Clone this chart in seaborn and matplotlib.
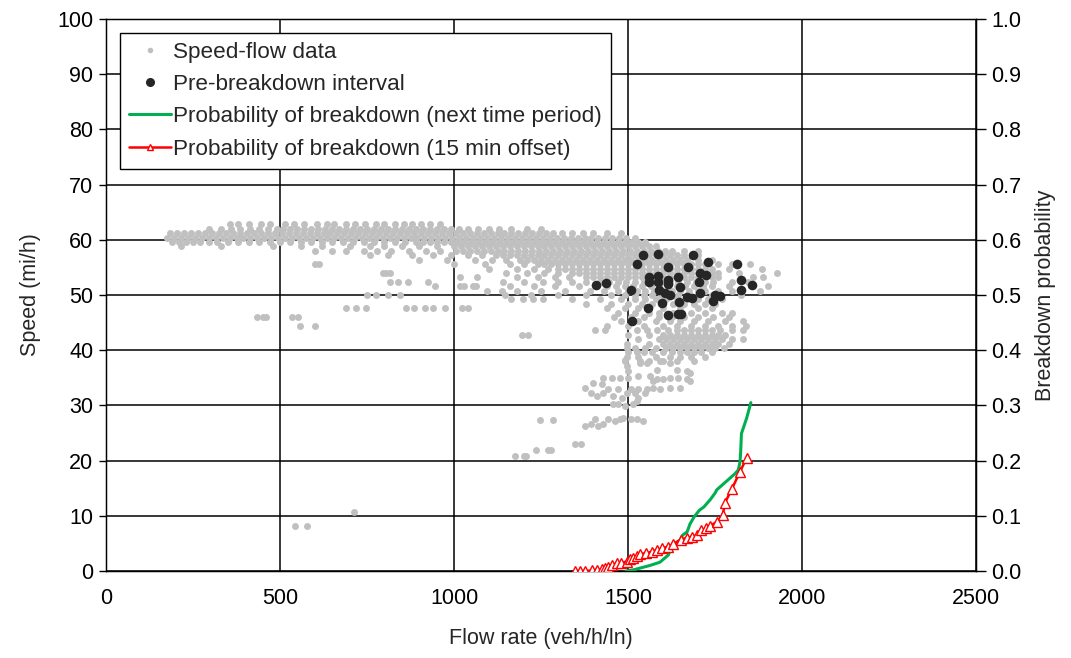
import numpy as np
import pandas as pd
import matplotlib
matplotlib.use("Agg")
import matplotlib.pyplot as plt
from matplotlib.lines import Line2D
import seaborn as sns

# ---------------- data ----------------
# Dense speed-flow band, one list of flows per speed level (mi/h)
row_628 = [355, 380, 410, 445, 470, 515, 540, 570, 605, 635, 655, 690, 715, 745, 775, 800, 830, 855, 880, 905, 930, 960]
row_620 = [295, 330, 360, 385, 415, 440, 465, 490, 510, 530, 550, 570, 590, 610, 630, 650, 670, 690, 710, 730, 750,
           770, 790, 810, 830, 850, 870, 890, 910, 930, 950, 970, 990, 1015, 1040, 1070, 1100, 1130, 1165, 1210, 1250]
row_612 = [185, 205, 225, 245, 265, 285, 305, 325, 345, 365, 385, 405, 425, 445, 465, 485, 505, 525, 545, 565, 585,
           605, 625, 645, 665, 685, 705, 725, 745, 765, 785, 805, 825, 845, 865, 885, 905, 925, 945, 965, 985, 1005,
           1025, 1045, 1065, 1085, 1105, 1125, 1145, 1165, 1185, 1205, 1225, 1245, 1265, 1285, 1310, 1340, 1370, 1400,
           1440, 1480]
row_604 = [175, 195, 215, 235, 255, 275, 295, 315, 335, 355, 375, 395, 415, 435, 455, 475, 495, 515, 535, 555, 575,
           595, 615, 635, 655, 675, 695, 715, 735, 755, 775, 795, 815, 835, 855, 875, 895, 915, 935, 955, 975, 995,
           1015, 1035, 1055, 1075, 1095, 1115, 1135, 1155, 1175, 1195, 1215, 1235, 1255, 1275, 1295, 1315, 1335, 1355,
           1375, 1395, 1415, 1435, 1455, 1475, 1495, 1520]
row_596 = [190, 210, 230, 250, 270, 295, 320, 350, 380, 410, 440, 470, 500, 530, 560, 590, 620, 650, 680, 710, 740,
           770, 800, 830, 860, 890, 910, 930, 950, 970, 990, 1010, 1030, 1050, 1070, 1090, 1110, 1130, 1150, 1170,
           1190, 1210, 1230, 1250, 1270, 1290, 1310, 1330, 1350, 1370, 1390, 1410, 1430, 1450, 1470, 1490, 1510,
           1530, 1550]
row_588 = [215, 330, 480, 560, 620, 700, 760, 800, 850, 900, 950, 1000, 1020, 1040, 1060, 1080, 1100, 1120, 1140,
           1160, 1180, 1200, 1220, 1240, 1260, 1280, 1300, 1320, 1340, 1360, 1380, 1400, 1420, 1440, 1460, 1480,
           1500, 1520, 1540, 1560, 1580]
row_580 = [600, 650, 690, 740, 780, 820, 870, 920, 960, 1005, 1025, 1045, 1065, 1085, 1105, 1125, 1145, 1165, 1185,
           1205, 1225, 1245, 1265, 1285, 1305, 1325, 1345, 1365, 1385, 1405, 1425, 1445, 1465, 1485, 1505, 1525,
           1545, 1565, 1585, 1605, 1625, 1660, 1700]
row_572 = [760, 810, 880, 940, 990, 1040, 1080, 1120, 1140, 1160, 1180, 1200, 1220, 1240, 1260, 1280, 1300, 1320,
           1340, 1360, 1380, 1400, 1420, 1440, 1460, 1480, 1500, 1520, 1540, 1560, 1580, 1600, 1620, 1640, 1660, 1700]
row_564 = [900, 980, 1060, 1110, 1150, 1190, 1210, 1230, 1250, 1270, 1290, 1310, 1330, 1350, 1370, 1390, 1410,
           1430, 1450, 1470, 1490, 1510, 1530, 1550, 1570, 1590, 1610, 1630, 1650, 1670, 1700, 1740]
row_556 = [600, 612, 1000, 1090, 1160, 1200, 1240, 1260, 1280, 1300, 1320, 1340, 1360, 1380, 1400, 1420, 1440, 1460,
           1480, 1500, 1520, 1540, 1560, 1580, 1600, 1620, 1640, 1660, 1680, 1700, 1720, 1760, 1800, 1850]
row_548 = [1100, 1180, 1230, 1270, 1300, 1320, 1340, 1360, 1380, 1400, 1420, 1440, 1460, 1480, 1500, 1520, 1540,
           1560, 1580, 1600, 1620, 1640, 1660, 1680, 1700, 1720, 1740, 1790, 1884]
row_540 = [795, 805, 815, 1150, 1210, 1260, 1300, 1340, 1360, 1380, 1400, 1420, 1440, 1460, 1480, 1500, 1520, 1540,
           1560, 1580, 1600, 1620, 1640, 1660, 1680, 1700, 1720, 1740, 1760, 1820, 1927]
row_532 = [1017, 1065, 1180, 1240, 1290, 1330, 1380, 1400, 1420, 1440, 1460, 1480, 1500, 1520, 1540, 1560, 1580,
           1600, 1620, 1640, 1660, 1680, 1700, 1720, 1740, 1760, 1859, 1889]
row_524 = [816, 840, 868, 926, 1140, 1200, 1255, 1300, 1340, 1380, 1420, 1445, 1470, 1495, 1520, 1545, 1570, 1595,
           1620, 1645, 1670, 1695, 1720, 1745, 1800, 1845]
row_516 = [945, 1017, 1030, 1054, 1064, 1160, 1230, 1290, 1360, 1410, 1440, 1465, 1490, 1515, 1540, 1565, 1590,
           1615, 1640, 1665, 1690, 1715, 1740, 1790, 1903]
row_508 = [1094, 1137, 1180, 1250, 1320, 1390, 1430, 1470, 1500, 1525, 1550, 1575, 1600, 1625, 1650, 1675, 1700,
           1720, 1760, 1800, 1879]
row_500 = [749, 776, 811, 845, 1146, 1220, 1300, 1380, 1450, 1490, 1520, 1545, 1570, 1595, 1620, 1645, 1670, 1700,
           1740, 1826]
row_492 = [1165, 1199, 1228, 1256, 1340, 1420, 1480, 1520, 1550, 1580, 1610, 1640, 1670, 1700, 1730, 1770]
row_484 = [1380, 1450, 1500, 1540, 1570, 1600, 1630, 1660, 1690, 1720, 1750]
row_476 = [690, 718, 748, 861, 885, 917, 941, 975, 1024, 1040, 1440, 1490, 1530, 1560, 1600, 1650, 1700, 1740]
row_468 = [1470, 1520, 1560, 1590, 1630, 1680, 1720, 1770, 1800]
row_460 = [433, 450, 460, 534, 553, 1460, 1510, 1545, 1590, 1625, 1660, 1700, 1745, 1790]
row_452 = [1480, 1530, 1580, 1620, 1650, 1690, 1730, 1780, 1830]
row_444 = [557, 600, 1439, 1500, 1545, 1600, 1640, 1680, 1720, 1760, 1800, 1840]
row_436 = [1405, 1434, 1525, 1554, 1582, 1615, 1640, 1660, 1680, 1700, 1720, 1740, 1765, 1800, 1830]
row_428 = [1194, 1213, 1500, 1560, 1600, 1620, 1640, 1660, 1680, 1700, 1720, 1740, 1760, 1780]
row_420 = [1530, 1590, 1610, 1630, 1650, 1670, 1690, 1710, 1730, 1750, 1770, 1800, 1830]
row_412 = [1496, 1560, 1600, 1620, 1640, 1660, 1680, 1700, 1720, 1740, 1760, 1790]
row_404 = [1496, 1520, 1550, 1580, 1610, 1630, 1650, 1670, 1690, 1710, 1730, 1750, 1775]
row_396 = [1500, 1525, 1545, 1570, 1600, 1625, 1650, 1670, 1690, 1710, 1740]
row_388 = [1496, 1530, 1580, 1620, 1650, 1680, 1720]
row_380 = [1490, 1535, 1560, 1600, 1640, 1690]

band_levels = [62.8, 62.0, 61.2, 60.4, 59.6, 58.8, 58.0, 57.2, 56.4, 55.6, 54.8, 54.0, 53.2, 52.4, 51.6, 50.8,
               50.0, 49.2, 48.4, 47.6, 46.8, 46.0, 45.2, 44.4, 43.6, 42.8, 42.0, 41.2, 40.4, 39.6, 38.8, 38.0]
band_rows = [row_628, row_620, row_612, row_604, row_596, row_588, row_580, row_572, row_564, row_556, row_548,
             row_540, row_532, row_524, row_516, row_508, row_500, row_492, row_484, row_476, row_468, row_460,
             row_452, row_444, row_436, row_428, row_420, row_412, row_404, row_396, row_388, row_380]

# Scattered congested points (flow, speed)
low_flow = [1535, 1554, 1582, 1592, 1621, 1640, 1669, 1678, 1563, 1573, 1582, 1602, 1621, 1645, 1669, 1678,
            1429, 1453, 1477, 1501, 1530, 1424, 1400, 1376, 1443, 1472, 1510, 1530, 1554, 1573, 1592, 1621, 1650,
            1395, 1410, 1429, 1458, 1482, 1496, 1520, 1530, 1549, 1458, 1472, 1491, 1515, 1525, 1496, 1501, 1490,
            1376, 1395, 1405, 1414, 1429, 1443, 1463, 1477, 1487, 1510, 1525, 1544, 1347, 1366,
            1247, 1284, 1237, 1270, 1280, 1175, 1200, 1208, 543, 577, 714]
low_speed = [37.7, 37.7, 36.5, 38.0, 37.7, 36.5, 36.2, 35.9, 35.3, 34.4, 34.7, 34.7, 35.0, 35.0, 34.7, 34.4,
             35.0, 35.0, 35.0, 35.0, 35.3, 33.8, 34.1, 33.2, 32.9, 32.9, 32.9, 32.9, 32.9, 33.2, 32.9, 33.2, 33.2,
             32.3, 31.7, 32.3, 31.7, 31.4, 32.3, 32.3, 31.4, 32.3, 30.2, 30.2, 29.9, 30.2, 30.8, 37.1, 36.2, 38.3,
             26.3, 26.6, 27.5, 26.3, 26.6, 27.5, 27.2, 27.5, 27.8, 27.5, 27.5, 27.2, 23.0, 23.0,
             27.4, 27.4, 22.0, 22.0, 22.0, 20.8, 20.8, 20.8, 8.2, 8.2, 10.6]

# Pre-breakdown interval points
pre_flow = [1544, 1585, 1686, 1525, 1616, 1673, 1731, 1812, 1561, 1561, 1585, 1585, 1616, 1616, 1645, 1649, 1707,
            1723, 1704, 1826, 1855, 1826, 1509, 1590, 1606, 1621, 1669, 1683, 1707, 1750, 1764, 1745, 1597, 1558,
            1647, 1616, 1645, 1652, 1511, 1408, 1437]
pre_speed = [57.2, 57.5, 57.2, 55.6, 55.1, 55.0, 55.9, 55.6, 53.2, 52.4, 53.4, 52.4, 52.8, 52.0, 53.3, 51.5, 53.9,
             53.7, 52.4, 52.8, 51.8, 50.9, 50.9, 50.9, 50.3, 50.0, 49.7, 49.4, 50.3, 50.0, 49.8, 49.0, 48.5, 47.6,
             48.8, 46.4, 46.6, 46.5, 45.3, 51.8, 52.2]

# Probability of breakdown (next time period)
next_flow = [1495, 1515, 1563, 1592, 1616, 1621, 1649, 1657, 1670, 1678, 1690, 1705, 1718, 1736, 1750, 1755, 1807,
             1817, 1822, 1824, 1826, 1841, 1853]
next_prob = [0.0, 0.002, 0.010, 0.016, 0.029, 0.038, 0.055, 0.065, 0.071, 0.085, 0.098, 0.110, 0.116, 0.129, 0.141,
             0.147, 0.176, 0.183, 0.198, 0.219, 0.249, 0.277, 0.305]

# Probability of breakdown (15 min offset)
off_flow = [1348, 1362, 1376, 1396, 1410, 1424, 1435, 1443, 1455, 1467, 1481, 1496, 1505, 1515, 1525, 1534, 1553,
            1568, 1582, 1597, 1616, 1630, 1651, 1669, 1683, 1697, 1711, 1723, 1736, 1755, 1772, 1779, 1798, 1822, 1841]
off_prob = [0.0, 0.0, 0.0, 0.001, 0.002, 0.003, 0.006, 0.008, 0.011, 0.014, 0.015, 0.017, 0.021, 0.023, 0.027,
            0.031, 0.032, 0.035, 0.038, 0.041, 0.044, 0.049, 0.057, 0.060, 0.062, 0.065, 0.074, 0.077, 0.082, 0.089,
            0.101, 0.124, 0.148, 0.180, 0.205]

x_ticks = [0, 500, 1000, 1500, 2000, 2500]
y_ticks = [0, 10, 20, 30, 40, 50, 60, 70, 80, 90, 100]
p_ticks = [0.0, 0.1, 0.2, 0.3, 0.4, 0.5, 0.6, 0.7, 0.8, 0.9, 1.0]

# ---------------- tables ----------------
band_df = pd.DataFrame({
    "flow": [f for row in band_rows for f in row] + low_flow,
    "speed": [lv for lv, row in zip(band_levels, band_rows) for _ in row] + low_speed,
})
pre_df = pd.DataFrame({"flow": pre_flow, "speed": pre_speed})
next_df = pd.DataFrame({"flow": next_flow, "prob": next_prob})
off_df = pd.DataFrame({"flow": off_flow, "prob": off_prob})

# ---------------- plot ----------------
sns.set_style("white")
plt.rcParams["font.family"] = ["Liberation Sans", "DejaVu Sans"]

GRAY = "#c0c0c0"
DARK = "#262626"
GREEN = "#00b050"
RED = "#ff0000"
TICK_FS = 15.5
LAB_FS = 15.5

fig = plt.figure(figsize=(10.71, 6.58), dpi=100)
ax = fig.add_axes([106 / 1071, 1 - 571 / 658, 870 / 1071, 552 / 658])

sns.scatterplot(data=band_df, x="flow", y="speed", ax=ax, color=GRAY, s=25, linewidth=0, legend=False, zorder=3)
sns.scatterplot(data=pre_df, x="flow", y="speed", ax=ax, color=DARK, s=48, linewidth=0, legend=False, zorder=4)

ax.set_xlim(0, 2500)
ax.set_ylim(0, 100)
ax.set_xticks(x_ticks)
ax.set_yticks(y_ticks)
ax.grid(True, color="black", linewidth=1.1)
ax.set_axisbelow(True)
for sp in ax.spines.values():
    sp.set_color("black")
    sp.set_linewidth(1.0)
ax.tick_params(axis="both", labelsize=TICK_FS, colors="black", length=5, direction="out", width=1)
ax.tick_params(axis="x", pad=7)
ax.tick_params(axis="y", pad=4)
ax.set_xlabel("Flow rate (veh/h/ln)", fontsize=LAB_FS, labelpad=14)
ax.set_ylabel("Speed (mi/h)", fontsize=LAB_FS, labelpad=12)

ax2 = ax.twinx()
sns.lineplot(data=next_df, x="flow", y="prob", ax=ax2, color=GREEN, linewidth=2.2, sort=False,
             estimator=None, legend=False, zorder=5)
sns.lineplot(data=off_df, x="flow", y="prob", ax=ax2, color=RED, linewidth=1.8, sort=False,
             estimator=None, legend=False, marker="^", markersize=7, markerfacecolor="white",
             markeredgecolor=RED, markeredgewidth=1.0, zorder=6)
ax2.set_ylim(0, 1.0)
ax2.set_yticks(p_ticks)
ax2.set_yticklabels([f"{t:.1f}" for t in p_ticks])
ax2.tick_params(axis="y", labelsize=TICK_FS, colors="black", length=7, direction="out", width=1, pad=4)
ax2.set_ylabel("Breakdown probability", fontsize=LAB_FS, labelpad=10)
ax2.grid(False)
for sp in ax2.spines.values():
    sp.set_color("black")

handles = [
    Line2D([], [], linestyle="", marker="o", color=GRAY, markersize=3),
    Line2D([], [], linestyle="", marker="o", color=DARK, markersize=5.5),
    Line2D([], [], color=GREEN, linewidth=2.2),
    Line2D([], [], color=RED, linewidth=1.8, marker="^", markersize=5, markerfacecolor="white",
           markeredgecolor=RED),
]
labels = ["Speed-flow data", "Pre-breakdown interval",
          "Probability of breakdown (next time period)", "Probability of breakdown (15 min offset)"]
leg = ax2.legend(handles, labels, loc="upper left", bbox_to_anchor=(0.016, 0.975), borderaxespad=0,
                 fontsize=16.2, frameon=True, fancybox=False, framealpha=1, edgecolor="black",
                 handlelength=1.85, handletextpad=0.1, labelspacing=0.5, borderpad=0.4)
leg.get_frame().set_linewidth(1.0)

fig.savefig("out.png", dpi=100)
